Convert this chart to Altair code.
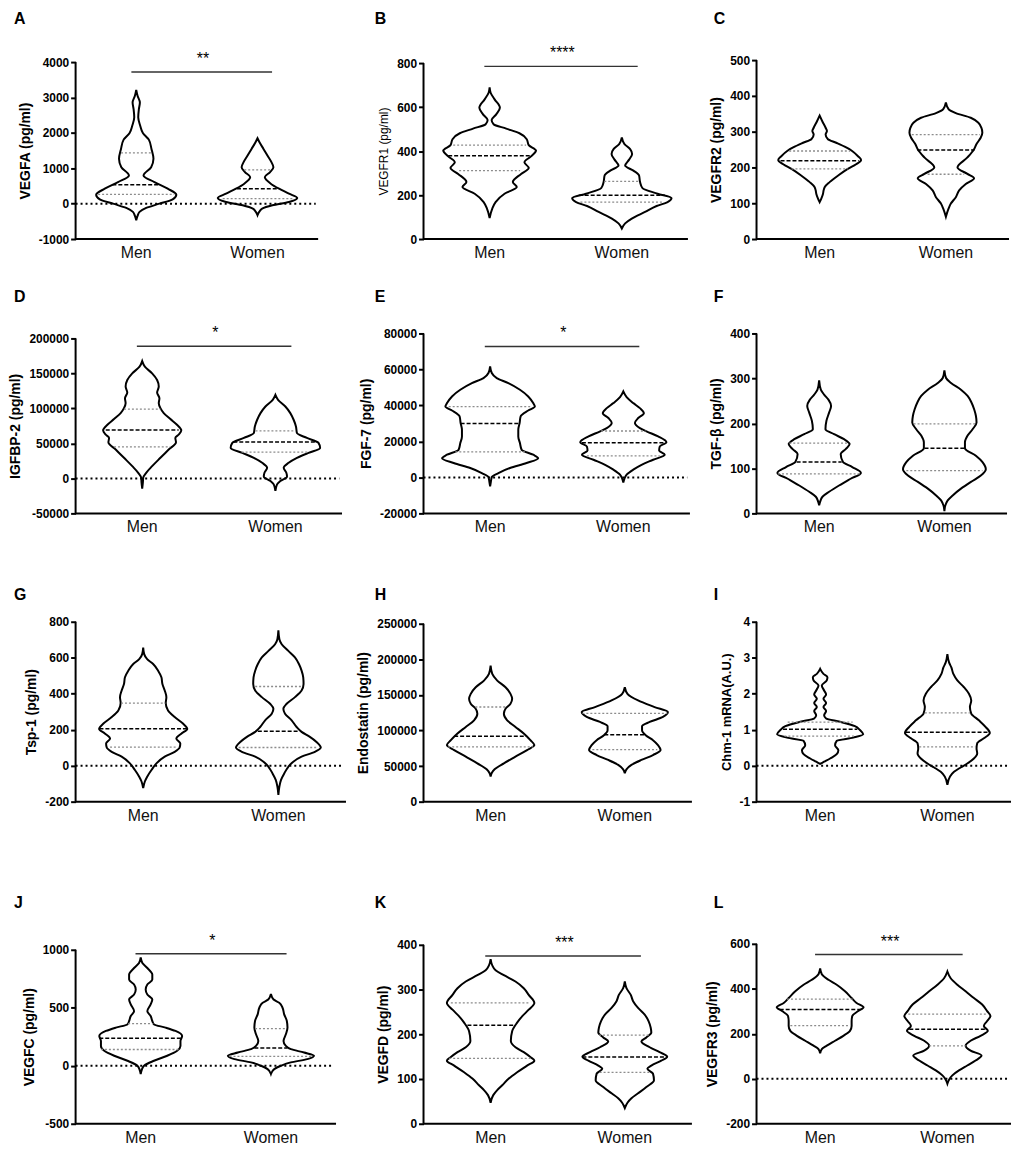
import altair as alt
import pandas as pd

FONT = "Liberation Sans"
GROUPS = ["Men", "Women"]
GROUP_X = [1, 2]

# ---------------- data ----------------
# Violin outlines: values (y) and half-widths (picture units, 3x screen px)
# A  VEGFA
VEGFA_MEN_Y = [3216, 3047, 2859, 2672, 2438, 2203, 1997, 1809, 1547, 1266, 1031, 797, 609, 422, 253, 122, 0, -122, -234, -347, -469]
VEGFA_MEN_W = [0, 4, 11, 8, 6, 12, 20, 38, 46, 52, 45, 22, 55, 95, 121, 110, 70, 30, 10, 4, 0]
VEGFA_WOMEN_Y = [1847, 1734, 1547, 1359, 1172, 1031, 891, 750, 563, 422, 281, 159, 47, -47, -141, -234, -328]
VEGFA_WOMEN_W = [0, 6, 18, 30, 42, 48, 38, 22, 40, 65, 95, 120, 95, 45, 14, 5, 0]
VEGFA_MEN_Q = [262, 535, 1434]
VEGFA_MEN_QW = [115, 72, 46]
VEGFA_WOMEN_Q = [140, 422, 956]
VEGFA_WOMEN_QW = [105, 62, 40]

# B  VEGFR1
VEGFR1_MEN_Y = [690, 665, 635, 597, 567, 541, 522, 502, 481, 454, 427, 402, 376, 349, 323, 296, 259, 236, 206, 168, 138, 96]
VEGFR1_MEN_W = [0, 3, 15, 31, 20, 6, 12, 50, 90, 112, 118, 140, 125, 105, 118, 95, 70, 82, 45, 18, 8, 0]
VEGFR1_WOMEN_Y = [462, 432, 409, 387, 361, 334, 311, 289, 259, 232, 206, 186, 168, 150, 123, 93, 71, 48]
VEGFR1_WOMEN_W = [0, 8, 25, 31, 22, 10, 35, 52, 55, 62, 108, 150, 138, 105, 70, 30, 10, 0]
VEGFR1_MEN_Q = [311, 379, 427]
VEGFR1_MEN_QW = [92, 125, 110]
VEGFR1_WOMEN_Q = [168, 199, 262]
VEGFR1_WOMEN_QW = [125, 130, 53]

# C  VEGFR2
VEGFR2_MEN_Y = [345, 329, 311, 302, 292, 279, 269, 256, 246, 232, 221, 209, 196, 177, 159, 145, 136, 126, 113, 103]
VEGFR2_MEN_W = [0, 8, 18, 22, 18, 25, 50, 80, 98, 115, 125, 110, 85, 55, 30, 15, 12, 10, 5, 0]
VEGFR2_WOMEN_Y = [382, 363, 352, 339, 325, 311, 297, 283, 265, 251, 228, 200, 182, 170, 154, 136, 117, 99, 85, 62]
VEGFR2_WOMEN_W = [0, 8, 30, 75, 98, 107, 110, 105, 92, 85, 65, 35, 65, 85, 60, 40, 30, 15, 8, 0]
VEGFR2_MEN_Q = [196, 219, 246]
VEGFR2_MEN_QW = [85, 118, 92]
VEGFR2_WOMEN_Q = [181, 249, 292]
VEGFR2_WOMEN_QW = [55, 86, 103]

# D  IGFBP-2
IGFBP2_MEN_Y = [167600, 159600, 150100, 140600, 131200, 122600, 114600, 107500, 100400, 93300, 84800, 76700, 68700, 62500, 57800, 51600, 41200, 29400, 17500, 8000, 900, -6200, -14700]
IGFBP2_MEN_W = [0, 8, 30, 45, 50, 45, 52, 50, 55, 65, 85, 105, 118, 110, 100, 102, 80, 55, 30, 12, 3, 2, 0]
IGFBP2_WOMEN_Y = [119300, 112200, 102700, 93300, 83800, 74300, 64900, 57800, 50700, 43600, 36500, 29400, 22300, 15200, 8000, 2400, -3800, -8500, -18000]
IGFBP2_WOMEN_W = [0, 8, 30, 45, 55, 62, 65, 95, 130, 135, 100, 65, 40, 25, 33, 35, 15, 5, 0]
IGFBP2_MEN_Q = [45000, 69000, 99000]
IGFBP2_MEN_QW = [85, 110, 55]
IGFBP2_WOMEN_Q = [37500, 52000, 68000]
IGFBP2_WOMEN_QW = [102, 127, 60]

# E  FGF-7
FGF7_MEN_Y = [61700, 58000, 55200, 52400, 48700, 45000, 41300, 39400, 37200, 33900, 30200, 26500, 22800, 19100, 15400, 12600, 10700, 8000, 5200, 2400, 200, -2800, -5000]
FGF7_MEN_W = [0, 5, 20, 55, 90, 115, 130, 135, 115, 92, 89, 85, 85, 90, 95, 130, 145, 110, 60, 25, 5, 2, 0]
FGF7_WOMEN_Y = [47800, 44600, 41300, 38500, 35700, 33000, 30200, 27400, 25600, 22800, 19600, 17200, 15000, 12600, 9800, 7000, 4300, 1500, -900, -2800]
FGF7_WOMEN_W = [0, 10, 30, 50, 62, 45, 35, 50, 70, 105, 130, 110, 108, 125, 90, 55, 30, 10, 3, 0]
FGF7_MEN_Q = [14200, 30000, 39300]
FGF7_MEN_QW = [105, 89, 125]
FGF7_WOMEN_Q = [12000, 19300, 25800]
FGF7_WOMEN_QW = [110, 125, 67]

# F  TGF-beta
TGFB_MEN_Y = [296, 275, 264, 253, 239, 224, 206, 187, 176, 165, 154, 143, 132, 114, 103, 90, 77, 62, 48, 37, 26, 18]
TGFB_MEN_W = [0, 5, 15, 28, 36, 30, 22, 19, 45, 75, 92, 80, 65, 72, 100, 126, 95, 60, 30, 10, 3, 0]
TGFB_WOMEN_Y = [318, 301, 290, 275, 261, 246, 231, 217, 202, 187, 173, 158, 145, 128, 114, 98, 84, 70, 55, 40, 29, 18, 5]
TGFB_WOMEN_W = [0, 5, 20, 50, 70, 82, 90, 95, 97, 85, 70, 62, 62, 95, 115, 125, 110, 80, 50, 25, 10, 3, 0]
TGFB_MEN_Q = [88, 114, 156]
TGFB_MEN_QW = [124, 68, 90]
TGFB_WOMEN_Q = [95, 145, 199]
TGFB_WOMEN_QW = [115, 60, 93]

# G  Tsp-1
TSP1_MEN_Y = [657, 620, 592, 565, 528, 491, 454, 418, 381, 348, 307, 270, 234, 204, 178, 151, 123, 101, 77, 50, 13, -24, -61, -88, -125]
TSP1_MEN_W = [0, 3, 12, 30, 45, 55, 58, 65, 70, 68, 75, 95, 120, 133, 115, 100, 112, 110, 95, 65, 40, 25, 12, 5, 0]
TSP1_WOMEN_Y = [753, 703, 675, 638, 602, 565, 528, 491, 454, 418, 381, 344, 316, 289, 252, 215, 188, 160, 132, 101, 77, 50, 22, -6, -42, -79, -116, -162]
TSP1_WOMEN_W = [0, 3, 10, 30, 50, 62, 70, 75, 76, 70, 50, 25, 15, 20, 40, 55, 70, 95, 115, 128, 110, 70, 45, 30, 18, 8, 3, 0]
TSP1_MEN_Q = [103, 205, 348]
TSP1_MEN_QW = [100, 132, 67]
TSP1_WOMEN_Q = [101, 192, 440]
TSP1_WOMEN_QW = [120, 62, 70]

# H  Endostatin
ENDO_MEN_Y = [191000, 179400, 170100, 160800, 151500, 144500, 137600, 130600, 123600, 114300, 105000, 95700, 86400, 79500, 72500, 63200, 53900, 45500, 40000, 35300]
ENDO_MEN_W = [0, 5, 20, 45, 60, 65, 60, 45, 40, 50, 75, 100, 120, 132, 110, 75, 40, 12, 3, 0]
ENDO_WOMEN_Y = [160800, 151500, 142200, 132900, 125900, 119000, 112000, 106000, 100400, 93400, 86400, 79500, 72500, 65500, 58600, 51600, 45500, 40000]
ENDO_WOMEN_W = [0, 8, 40, 90, 130, 115, 75, 52, 52, 63, 85, 100, 108, 85, 50, 20, 5, 0]
ENDO_MEN_Q = [77000, 92000, 133000]
ENDO_MEN_QW = [128, 110, 46]
ENDO_WOMEN_Q = [73000, 94000, 124000]
ENDO_WOMEN_QW = [98, 62, 128]

# I  Chm-1 mRNA
CHM1_MEN_Y = [2.69, 2.55, 2.46, 2.37, 2.23, 2.09, 1.98, 1.86, 1.74, 1.63, 1.52, 1.40, 1.31, 1.22, 1.10, 0.99, 0.87, 0.78, 0.69, 0.57, 0.43, 0.32, 0.20, 0.11, 0.05]
CHM1_MEN_W = [0, 10, 22, 20, 5, 12, 18, 10, 18, 10, 18, 12, 18, 60, 105, 120, 130, 100, 50, 45, 55, 50, 30, 12, 0]
CHM1_WOMEN_Y = [3.10, 2.87, 2.73, 2.55, 2.37, 2.18, 2.00, 1.81, 1.63, 1.45, 1.26, 1.08, 0.91, 0.76, 0.62, 0.48, 0.34, 0.20, 0.06, -0.05, -0.17, -0.30, -0.53]
CHM1_WOMEN_W = [0, 5, 12, 18, 30, 50, 65, 72, 68, 72, 95, 115, 128, 110, 90, 88, 90, 80, 60, 40, 20, 8, 0]
CHM1_MEN_Q = [0.82, 1.01, 1.21]
CHM1_MEN_QW = [108, 112, 98]
CHM1_WOMEN_Q = [0.52, 0.93, 1.47]
CHM1_WOMEN_QW = [85, 125, 68]

# J  VEGFC
VEGFC_MEN_Y = [934, 886, 843, 786, 743, 700, 657, 614, 571, 529, 471, 429, 386, 357, 329, 300, 257, 214, 171, 129, 86, 43, 0, -37, -71]
VEGFC_MEN_W = [0, 5, 20, 35, 35, 20, 15, 20, 35, 30, 20, 30, 35, 40, 75, 105, 125, 120, 120, 110, 80, 40, 10, 3, 0]
VEGFC_WOMEN_Y = [620, 571, 543, 500, 443, 386, 329, 271, 214, 171, 143, 114, 86, 57, 29, 0, -29, -71]
VEGFC_WOMEN_W = [0, 8, 25, 35, 40, 48, 50, 45, 38, 45, 60, 100, 130, 110, 60, 30, 10, 0]
VEGFC_MEN_Q = [140, 237, 363]
VEGFC_MEN_QW = [120, 125, 38]
VEGFC_WOMEN_Q = [80, 154, 320]
VEGFC_WOMEN_QW = [125, 50, 48]

# K  VEGFD
VEGFD_MEN_Y = [368, 354, 343, 332, 318, 303, 288, 270, 255, 240, 226, 207, 185, 171, 160, 149, 141, 130, 115, 101, 86, 75, 64, 47]
VEGFD_MEN_W = [0, 5, 15, 40, 75, 100, 115, 132, 115, 95, 80, 65, 61, 75, 100, 120, 132, 110, 80, 55, 35, 20, 8, 0]
VEGFD_WOMEN_Y = [318, 303, 288, 274, 259, 244, 229, 215, 204, 193, 184, 171, 160, 150, 141, 130, 123, 112, 97, 82, 68, 57, 47, 35]
VEGFD_WOMEN_W = [0, 5, 18, 25, 40, 60, 72, 78, 80, 65, 50, 75, 105, 128, 110, 80, 68, 85, 88, 65, 40, 20, 8, 0]
VEGFD_MEN_Q = [146, 220, 270]
VEGFD_MEN_QW = [125, 70, 120]
VEGFD_WOMEN_Q = [115, 149, 198]
VEGFD_WOMEN_QW = [76, 128, 78]

# L  VEGFR3
VEGFR3_MEN_Y = [491, 465, 440, 418, 389, 359, 337, 318, 301, 279, 257, 235, 213, 191, 169, 147, 132, 113]
VEGFR3_MEN_W = [0, 5, 25, 50, 75, 95, 110, 131, 115, 97, 95, 95, 90, 70, 45, 20, 5, 0]
VEGFR3_WOMEN_Y = [477, 447, 418, 389, 359, 330, 301, 279, 257, 235, 213, 191, 169, 147, 125, 103, 81, 59, 37, 15, -4, -22]
VEGFR3_WOMEN_W = [0, 10, 30, 55, 80, 105, 120, 130, 120, 110, 122, 100, 70, 55, 70, 103, 85, 60, 35, 15, 5, 0]
VEGFR3_MEN_Q = [236, 308, 354]
VEGFR3_MEN_QW = [90, 122, 100]
VEGFR3_WOMEN_Q = [146, 220, 287]
VEGFR3_WOMEN_QW = [55, 115, 118]

LETTERS = ["A", "B", "C", "D", "E", "F", "G", "H", "I", "J", "K", "L"]
Y_TITLES = ["VEGFA (pg/ml)", "VEGFR1 (pg/ml)", "VEGFR2 (pg/ml)", "IGFBP-2 (pg/ml)",
            "FGF-7 (pg/ml)", "TGF-β  (pg/ml)", "Tsp-1 (pg/ml)", "Endostatin (pg/ml)",
            "Chm-1 mRNA(A.U.)", "VEGFC (pg/ml)", "VEGFD (pg/ml)", "VEGFR3 (pg/ml)"]
Y_TICKS = [[-1000, 0, 1000, 2000, 3000, 4000], [0, 200, 400, 600, 800], [0, 100, 200, 300, 400, 500],
           [-50000, 0, 50000, 100000, 150000, 200000], [-20000, 0, 20000, 40000, 60000, 80000],
           [0, 100, 200, 300, 400], [-200, 0, 200, 400, 600, 800],
           [0, 50000, 100000, 150000, 200000, 250000], [-1, 0, 1, 2, 3, 4],
           [-500, 0, 500, 1000], [0, 100, 200, 300, 400], [-200, 0, 200, 400, 600]]
STARS = ["**", "****", "", "*", "*", "", "", "", "", "*", "***", "***"]
BAR_Y = [3720, 785, None, 189000, 72800, None, None, None, None, 966, 375, 552]

MEN_Y = [VEGFA_MEN_Y, VEGFR1_MEN_Y, VEGFR2_MEN_Y, IGFBP2_MEN_Y, FGF7_MEN_Y, TGFB_MEN_Y,
         TSP1_MEN_Y, ENDO_MEN_Y, CHM1_MEN_Y, VEGFC_MEN_Y, VEGFD_MEN_Y, VEGFR3_MEN_Y]
MEN_W = [VEGFA_MEN_W, VEGFR1_MEN_W, VEGFR2_MEN_W, IGFBP2_MEN_W, FGF7_MEN_W, TGFB_MEN_W,
         TSP1_MEN_W, ENDO_MEN_W, CHM1_MEN_W, VEGFC_MEN_W, VEGFD_MEN_W, VEGFR3_MEN_W]
WOMEN_Y = [VEGFA_WOMEN_Y, VEGFR1_WOMEN_Y, VEGFR2_WOMEN_Y, IGFBP2_WOMEN_Y, FGF7_WOMEN_Y, TGFB_WOMEN_Y,
           TSP1_WOMEN_Y, ENDO_WOMEN_Y, CHM1_WOMEN_Y, VEGFC_WOMEN_Y, VEGFD_WOMEN_Y, VEGFR3_WOMEN_Y]
WOMEN_W = [VEGFA_WOMEN_W, VEGFR1_WOMEN_W, VEGFR2_WOMEN_W, IGFBP2_WOMEN_W, FGF7_WOMEN_W, TGFB_WOMEN_W,
           TSP1_WOMEN_W, ENDO_WOMEN_W, CHM1_WOMEN_W, VEGFC_WOMEN_W, VEGFD_WOMEN_W, VEGFR3_WOMEN_W]
MEN_Q = [VEGFA_MEN_Q, VEGFR1_MEN_Q, VEGFR2_MEN_Q, IGFBP2_MEN_Q, FGF7_MEN_Q, TGFB_MEN_Q,
         TSP1_MEN_Q, ENDO_MEN_Q, CHM1_MEN_Q, VEGFC_MEN_Q, VEGFD_MEN_Q, VEGFR3_MEN_Q]
MEN_QW = [VEGFA_MEN_QW, VEGFR1_MEN_QW, VEGFR2_MEN_QW, IGFBP2_MEN_QW, FGF7_MEN_QW, TGFB_MEN_QW,
          TSP1_MEN_QW, ENDO_MEN_QW, CHM1_MEN_QW, VEGFC_MEN_QW, VEGFD_MEN_QW, VEGFR3_MEN_QW]
WOMEN_Q = [VEGFA_WOMEN_Q, VEGFR1_WOMEN_Q, VEGFR2_WOMEN_Q, IGFBP2_WOMEN_Q, FGF7_WOMEN_Q, TGFB_WOMEN_Q,
           TSP1_WOMEN_Q, ENDO_WOMEN_Q, CHM1_WOMEN_Q, VEGFC_WOMEN_Q, VEGFD_WOMEN_Q, VEGFR3_WOMEN_Q]
WOMEN_QW = [VEGFA_WOMEN_QW, VEGFR1_WOMEN_QW, VEGFR2_WOMEN_QW, IGFBP2_WOMEN_QW, FGF7_WOMEN_QW, TGFB_WOMEN_QW,
            TSP1_WOMEN_QW, ENDO_WOMEN_QW, CHM1_WOMEN_QW, VEGFC_WOMEN_QW, VEGFD_WOMEN_QW, VEGFR3_WOMEN_QW]

# ---------------- layout / style ----------------
COL_W = [350, 335, 256]
PAGE_TOP = 8
ROW_BOTTOM = [237, 513, 803, 1127]
ROW_H = [ROW_BOTTOM[0] - PAGE_TOP] + [ROW_BOTTOM[k] - ROW_BOTTOM[k - 1] for k in range(1, 4)]
PLOT_TOP = [59, 60, 57, 337, 332, 332, 622, 624, 622, 952, 947, 946]
VIS_W = [244, 266, 254, 268, 268, 252, 272, 270, 256, 262, 270, 256]
AXIS_X0 = 71
AXIS_X = [AXIS_X0, AXIS_X0 + COL_W[0], AXIS_X0 + COL_W[0] + COL_W[1]]
LETTER_X = [9, 372, 713]
LETTER_BASE = [21, 300, 600, 910]
TITLE_SIZE = [14, 12, 14, 14, 14, 14, 14, 14, 13, 14, 14, 14]
TITLE_WEIGHT = ["bold", "normal", "bold", "bold", "bold", "bold", "bold", "bold", "bold", "bold", "bold", "bold"]
BAR_X = (0.96, 2.12)
STAR_X = 1.55


def build_panel(i):
    r, c = divmod(i, 3)
    cw, ch = COL_W[c], ROW_H[r]
    cell_top = ROW_BOTTOM[r] - ch
    ticks = Y_TICKS[i]
    ymin, ymax = ticks[0], ticks[-1]
    unit = VIS_W[i] / 2.0
    wscale = 1.0 / (3.0 * unit)
    xs = alt.Scale(domain=[0.5, 0.5 + cw / unit], nice=False, zero=False)
    ppu = (ROW_BOTTOM[r] - PLOT_TOP[i]) / (ymax - ymin)
    ys = alt.Scale(domain=[ymin, ymin + ch / ppu], nice=False, zero=False)
    plot_top_px = PLOT_TOP[i] - cell_top
    yaxis = alt.Axis(values=ticks, labelExpr="'' + datum.value", title=Y_TITLES[i],
                     domain=False, grid=False, ticks=True, tickSize=5, tickWidth=2,
                     tickColor="black", labelFont=FONT, labelFontSize=12,
                     labelFontWeight="bold", labelColor="black", labelPadding=2,
                     titleFont=FONT, titleFontSize=TITLE_SIZE[i],
                     titleFontWeight=TITLE_WEIGHT[i], titleColor="black",
                     titlePadding=6, titleY=(plot_top_px + ch) / 2.0)

    def X(f):
        return alt.X(f, scale=xs, axis=None)

    def Y(f):
        return alt.Y(f, scale=ys, axis=yaxis)

    # violins
    vrows = []
    for g, gx, yv, wv in zip(GROUPS, GROUP_X, [MEN_Y[i], WOMEN_Y[i]], [MEN_W[i], WOMEN_W[i]]):
        for v, w in zip(yv, wv):
            vrows.append({"grp": g, "v": v, "xl": gx - w * wscale, "xr": gx + w * wscale})
    vdf = pd.DataFrame(vrows)
    violins = alt.Chart(vdf).mark_area(
        orient="horizontal", fill="white", stroke="black", strokeWidth=2,
        interpolate="monotone").encode(
        y=Y("v:Q"), x=X("xl:Q"), x2="xr:Q", detail="grp:N")

    # quartile lines
    qrows = []
    for g, gx, qv, qw in zip(GROUPS, GROUP_X, [MEN_Q[i], WOMEN_Q[i]], [MEN_QW[i], WOMEN_QW[i]]):
        for k, (v, w) in enumerate(zip(qv, qw)):
            qrows.append({"grp": g, "v": v, "xl": gx - w * wscale, "xr": gx + w * wscale,
                          "kind": "median" if k == 1 else "quartile"})
    qdf = pd.DataFrame(qrows)
    quart = alt.Chart(qdf[qdf.kind == "quartile"]).mark_rule(
        color="#8c8c8c", strokeDash=[2, 2], strokeWidth=1.3).encode(
        y=Y("v:Q"), x=X("xl:Q"), x2="xr:Q")
    med = alt.Chart(qdf[qdf.kind == "median"]).mark_rule(
        color="black", strokeDash=[4, 2], strokeWidth=1.5).encode(
        y=Y("v:Q"), x=X("xl:Q"), x2="xr:Q")

    layers = [violins, quart, med]

    if ymin < 0:
        zdf = pd.DataFrame({"x": [0.5], "x2": [2.48], "y": [0]})
        layers.append(alt.Chart(zdf).mark_rule(
            color="black", strokeDash=[2, 3], strokeWidth=2).encode(
            y=Y("y:Q"), x=X("x:Q"), x2="x2:Q"))

    # axis lines
    adf = pd.DataFrame({"x": [0.5, 0.5], "x2": [0.5, 2.5], "y": [ymin, ymin], "y2": [ymax, ymin]})
    layers.append(alt.Chart(adf).mark_rule(color="black", strokeWidth=2).encode(
        y=Y("y:Q"), y2="y2:Q", x=X("x:Q"), x2="x2:Q"))

    # significance
    if STARS[i]:
        bdf = pd.DataFrame({"x": [BAR_X[0]], "x2": [BAR_X[1]], "y": [BAR_Y[i]]})
        layers.append(alt.Chart(bdf).mark_rule(color="#333333", strokeWidth=1.5).encode(
            y=Y("y:Q"), x=X("x:Q"), x2="x2:Q"))
        sdf = pd.DataFrame({"x": [STAR_X], "y": [BAR_Y[i]], "t": [STARS[i]]})
        layers.append(alt.Chart(sdf).mark_text(
            font=FONT, fontSize=16, color="black", baseline="alphabetic", dy=-8).encode(
            y=Y("y:Q"), x=X("x:Q"), text="t:N"))

    # category labels
    ldf = pd.DataFrame({"grp": GROUPS, "x": GROUP_X, "y": [ymin, ymin]})
    layers.append(alt.Chart(ldf).mark_text(
        font=FONT, fontSize=16, color="#111111", baseline="top", dy=6).encode(
        y=Y("y:Q"), x=X("x:Q"), text="grp:N"))

    # panel letter
    tdf = pd.DataFrame({"t": [LETTERS[i]]})
    layers.append(alt.Chart(tdf).mark_text(
        font=FONT, fontSize=16, fontWeight="bold", color="black", align="left",
        baseline="alphabetic").encode(
        text="t:N", x=alt.value(LETTER_X[c] - AXIS_X[c]),
        y=alt.value(LETTER_BASE[r] - cell_top)))

    return alt.layer(*layers).properties(width=cw, height=ch)


panels = [build_panel(i) for i in range(12)]

chart = alt.concat(*panels, columns=3, spacing=0, bounds="flush", align="each",
                   padding=0, background="white").configure_view(stroke=None)

chart.save("out.html", embed_options={"renderer": "svg", "actions": False})
